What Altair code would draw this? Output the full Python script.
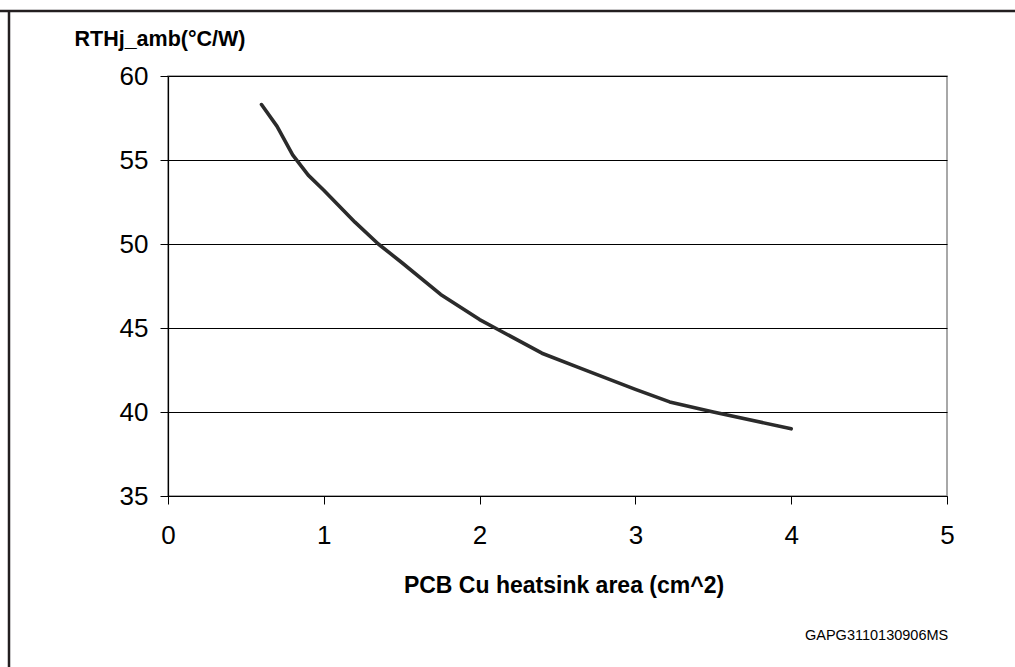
import altair as alt
import pandas as pd

# Junction-to-ambient thermal resistance vs. copper heatsink area on the PCB
area_cm2 = [0.6, 0.7, 0.8, 0.9, 1.0, 1.2, 1.35, 1.5, 1.75, 2.0, 2.1, 2.4, 2.65, 3.0, 3.22, 3.5, 4.0]
rth_c_per_w = [58.3, 57.0, 55.3, 54.1, 53.2, 51.3, 50.0, 48.9, 47.0, 45.5, 45.0, 43.5, 42.6, 41.35, 40.6, 40.0, 39.0]

x_ticks = [0, 1, 2, 3, 4, 5]
y_ticks = [35, 40, 45, 50, 55, 60]

y_title = "RTHj_amb(°C/W)"
x_title = "PCB Cu heatsink area (cm^2)"
figure_code = "GAPG3110130906MS"

FONT = "Liberation Sans"
W, H = 779, 420
PAD = {"left": 168, "top": 76, "right": 1015 - 168 - W, "bottom": 667 - 76 - H}

curve_df = pd.DataFrame({"area": area_cm2, "rth": rth_c_per_w})
one = pd.DataFrame({"k": [0]})

curve = alt.Chart(curve_df).mark_line(
    color="#2b2b2b", strokeWidth=3.6, strokeCap="round", strokeJoin="round"
).encode(
    x=alt.X(
        "area:Q",
        scale=alt.Scale(domain=[0, 5], nice=False),
        axis=alt.Axis(
            values=x_ticks, format="d", grid=False, labelFlush=False,
            title=x_title, titleFont=FONT, titleFontSize=23, titleFontWeight="bold",
            titleColor="black", titleY=96, titleBaseline="alphabetic", titleX=W / 2 + 6,
            labelFont=FONT, labelFontSize=26, labelColor="black", labelPadding=18,
            tickSize=8, tickColor="black", domainColor="black", domainWidth=1.2,
        ),
    ),
    y=alt.Y(
        "rth:Q",
        scale=alt.Scale(domain=[35, 60], nice=False, zero=False),
        axis=alt.Axis(
            values=y_ticks, format="d", grid=True, gridColor="black", gridWidth=1,
            title=y_title, titleFont=FONT, titleFontSize=21.5, titleFontWeight="bold",
            titleColor="black", titleAngle=0, titleAlign="left", titleBaseline="alphabetic",
            titleX=-94, titleY=-31,
            labelFont=FONT, labelFontSize=26, labelColor="black", labelPadding=12,
            tickSize=8, tickColor="black", domainColor="black", domainWidth=1.2,
        ),
    ),
)

# outer figure frame: top and left edges
frame_top = alt.Chart(one).mark_rule(color="#231f20", strokeWidth=2.5).encode(
    x=alt.value(-168), x2=alt.value(1015 - 168), y=alt.value(11 - 76)
)
frame_left = alt.Chart(one).mark_rule(color="#231f20", strokeWidth=2.5).encode(
    x=alt.value(9 - 168), y=alt.value(10 - 76), y2=alt.value(667 - 76)
)

code_label = alt.Chart(one).mark_text(
    text=figure_code, font=FONT, fontSize=14.5, color="black",
    align="left", baseline="alphabetic",
).encode(x=alt.value(805 - 168), y=alt.value(640 - 76))

chart = alt.layer(curve, frame_top, frame_left, code_label).properties(
    width=W, height=H, padding=PAD, autosize="none", background="white"
).configure_view(stroke="#8c8c8c", strokeWidth=1.5)

chart.save("out.html", embed_options={"renderer": "svg", "actions": False})
